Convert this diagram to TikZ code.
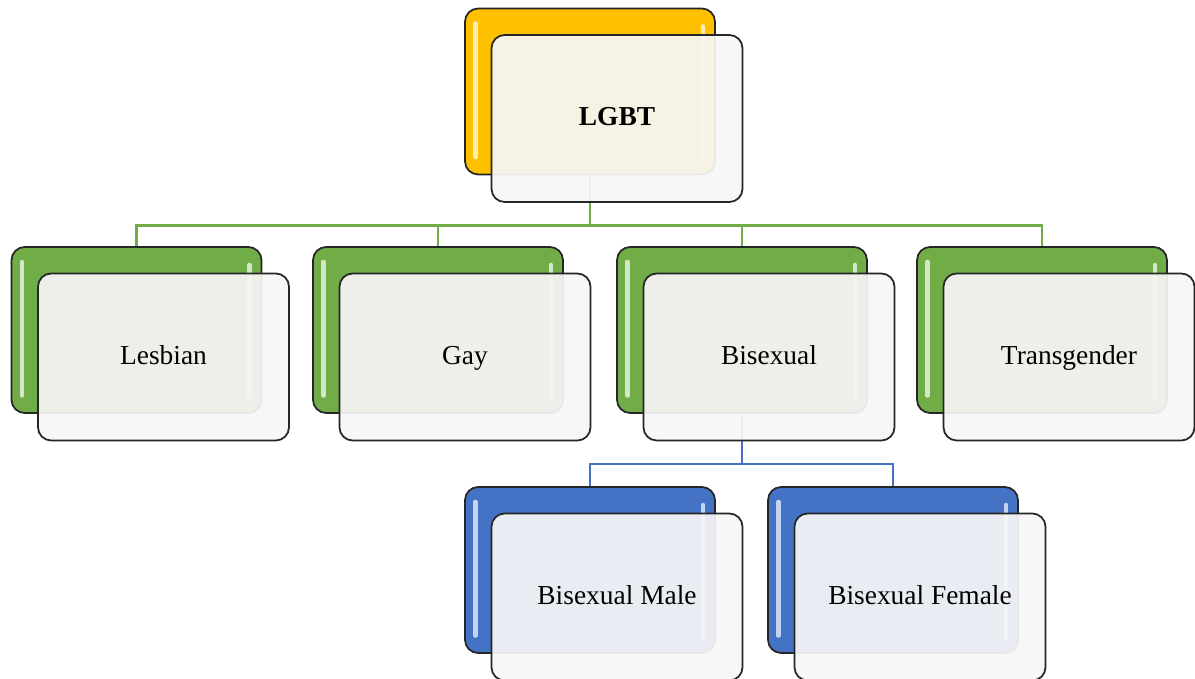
\documentclass[tikz,border=0pt]{standalone}
\usepackage{fontspec}
\setmainfont{Liberation Serif}
\usetikzlibrary{positioning,calc}
\definecolor{LGold}{HTML}{FFC000}
\definecolor{LGreen}{HTML}{70AD47}
\definecolor{LBlue}{HTML}{4472C4}
\definecolor{CardFill}{HTML}{F6F6F6}
\newcommand{\Label}{\fontsize{15.6}{19}\selectfont}
\tikzset{
  backcard/.style={draw=black!85, line width=1pt, rounded corners=7.5pt,
                   minimum width=5cm, minimum height=3.32cm, inner sep=0pt,
                   path picture={
                     \draw[gloss] ([shift={(0.21cm,-0.3cm)}]path picture bounding box.north west)
                       -- ([shift={(0.21cm,0.35cm)}]path picture bounding box.south west);
                     \draw[gloss] ([shift={(-0.24cm,-0.36cm)}]path picture bounding box.north east)
                       -- ([shift={(-0.24cm,0.3cm)}]path picture bounding box.south east);
                   }},
  gloss/.style={white, line width=2.6pt, line cap=round, opacity=0.7},
  card/.style={draw=black!85, line width=1pt, rounded corners=7.5pt, fill=CardFill,
               fill opacity=0.93, text opacity=1, minimum width=5.02cm,
               minimum height=3.34cm, align=center, font=\Label,
               text height=2ex, text depth=0.15ex},
  cardshift/.style={shift={(0.54cm,-0.54cm)}},
  treeline/.style={line width=1.3pt},
}

\begin{document}
\begin{tikzpicture}
  \useasboundingbox (0,0) rectangle (23.9,-13.58);
  % coloured back cards
  \node[backcard, fill=LGold] (lgbtB) at (11.8,-1.83) {};
  \node[backcard, fill=LGreen] (lesB) at (2.73,-6.6) {};
  \node[backcard, fill=LGreen] (gayB) at (8.76,-6.6) {};
  \node[backcard, fill=LGreen] (biB) at (14.84,-6.6) {};
  \node[backcard, fill=LGreen] (transB) at (20.84,-6.6) {};
  \node[backcard, fill=LBlue] (bimB) at (11.8,-11.4) {};
  \node[backcard, fill=LBlue] (bifB) at (17.86,-11.4) {};
  % connectors
  \foreach \kid in {lesB,gayB,biB,transB}
    \draw[treeline, LGreen] (lgbtB.south) -- ++(0,-1) -| (\kid.north);
  \foreach \kid in {bimB,bifB}
    \draw[treeline, LBlue] (biB.south) -- ++(0,-1) -| (\kid.north);
  % front cards
  \node[card] (lgbt) at ([cardshift]lgbtB.center) {\textbf{LGBT}};
  \node[card] (les) at ([cardshift]lesB.center) {Lesbian};
  \node[card] (gay) at ([cardshift]gayB.center) {Gay};
  \node[card] (bi) at ([cardshift]biB.center) {Bisexual};
  \node[card] (trans) at ([cardshift]transB.center) {Transgender};
  \node[card] (bim) at ([cardshift]bimB.center) {Bisexual Male};
  \node[card] (bif) at ([cardshift]bifB.center) {Bisexual Female};
\end{tikzpicture}
\end{document}
